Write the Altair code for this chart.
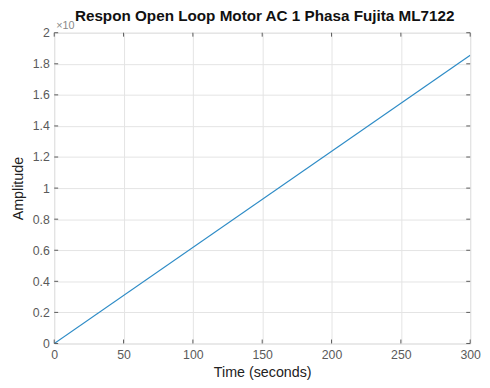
import altair as alt
import pandas as pd

time_s = [0, 300]
amplitude = [0.0, 1.855]
x_ticks = [0, 50, 100, 150, 200, 250, 300]
y_ticks = [0, 0.2, 0.4, 0.6, 0.8, 1.0, 1.2, 1.4, 1.6, 1.8, 2.0]
title_text = ["Respon Open Loop Motor AC 1 Phasa Fujita ML7122"]

W, H = 423, 316
FONT = "Liberation Sans"
GRAY = "#5a5a5a"

df = pd.DataFrame({"t": time_s, "a": amplitude})
xt = pd.DataFrame({"t": x_ticks})
yt = pd.DataFrame({"a": y_ticks})

xs = alt.Scale(domain=[0, 300], nice=False, zero=False)
ys = alt.Scale(domain=[0, 2], nice=False, zero=False)

x_axis = alt.Axis(values=x_ticks, title="Time (seconds)", grid=True,
                  gridColor="#e3e3e3", tickSize=0, domain=False, labelPadding=5,
                  labelColor=GRAY, labelFontSize=12.5, labelFont=FONT, labelOverlap=False,
                  titleFont=FONT, titleFontSize=14.5, titleFontWeight="normal", titleColor="#222222",
                  titlePadding=5, labelFlush=False)
y_axis = alt.Axis(values=y_ticks, title="Amplitude", format="~g", grid=True,
                  gridColor="#e3e3e3", tickSize=0, domain=False, labelPadding=5,
                  labelColor=GRAY, labelFontSize=12.5, labelFont=FONT, labelOverlap=False,
                  titleFont=FONT, titleFontSize=14.5, titleFontWeight="normal", titleColor="#222222",
                  titlePadding=7, labelFlush=False)

base_line = alt.Chart(df).mark_line(color="#2d8bc6", strokeWidth=1.2, clip=True).encode(
    x=alt.X("t:Q", scale=xs, axis=x_axis),
    y=alt.Y("a:Q", scale=ys, axis=y_axis),
)

tick_x_bottom = alt.Chart(xt).mark_rule(color=GRAY, strokeWidth=1).encode(
    x=alt.X("t:Q", scale=xs, axis=x_axis), y=alt.value(H), y2=alt.value(H - 4))
tick_x_top = alt.Chart(xt).mark_rule(color=GRAY, strokeWidth=1).encode(
    x=alt.X("t:Q", scale=xs, axis=x_axis), y=alt.value(0), y2=alt.value(4))
tick_y_left = alt.Chart(yt).mark_rule(color=GRAY, strokeWidth=1).encode(
    y=alt.Y("a:Q", scale=ys, axis=y_axis), x=alt.value(0), x2=alt.value(4))
tick_y_right = alt.Chart(yt).mark_rule(color=GRAY, strokeWidth=1).encode(
    y=alt.Y("a:Q", scale=ys, axis=y_axis), x=alt.value(W), x2=alt.value(W - 4))

exp_label = alt.Chart(pd.DataFrame({"s": ["\u00d710"]})).mark_text(
    align="left", baseline="bottom", font=FONT, fontSize=11, color="#888888").encode(
    text="s:N", x=alt.value(2), y=alt.value(-2))

title_mark = alt.Chart(pd.DataFrame({"s": title_text})).mark_text(
    align="center", baseline="middle", font=FONT, fontSize=15.5, fontWeight="bold",
    color="#111111").encode(text="s:N", x=alt.value(214), y=alt.value(-17))

chart = alt.layer(
    base_line, tick_x_bottom, tick_x_top, tick_y_left, tick_y_right, exp_label, title_mark
).properties(
    width=W, height=H,
    autosize=alt.AutoSizeParams(type="none"),
    padding={"left": 47, "top": 22, "right": 12, "bottom": 34},
).configure_view(
    stroke="#555555", strokeWidth=1
).configure(background="white")

chart.save("out.html", embed_options={"renderer": "svg", "actions": False})
